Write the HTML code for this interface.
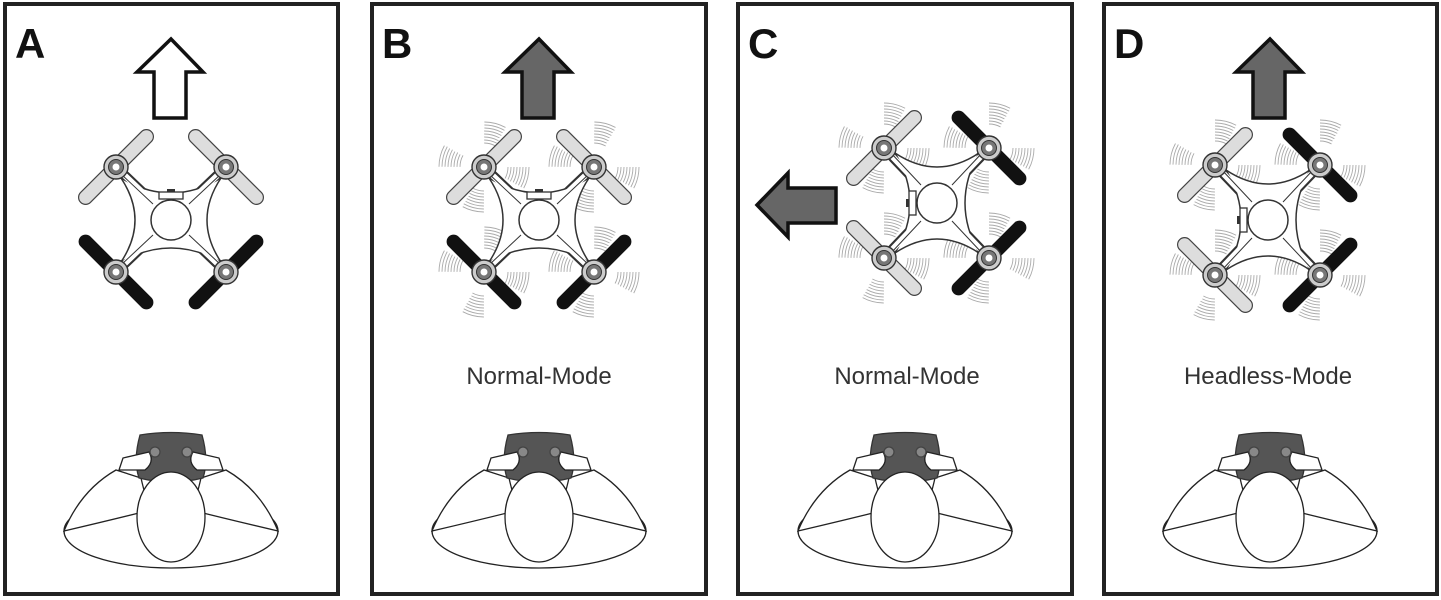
<!DOCTYPE html>
<html><head><meta charset="utf-8"><style>
html,body{margin:0;padding:0;background:#fff;}
svg{display:block;}
text{font-family:"Liberation Sans",Arial,sans-serif;}
</style></head><body>
<svg width="1441" height="600" viewBox="0 0 1441 600" xmlns="http://www.w3.org/2000/svg">
<defs>
  <g id="vib" fill="none" stroke="#aaa" stroke-width="0.9">
    <circle r="24" stroke-dasharray="12 25.7"/>
    <circle r="27" stroke-dasharray="13 29.4"/>
    <circle r="30" stroke-dasharray="15 32.1"/>
    <circle r="33" stroke-dasharray="16 35.8"/>
    <circle r="36" stroke-dasharray="18 38.5"/>
    <circle r="39" stroke-dasharray="19 42.3"/>
    <circle r="42" stroke-dasharray="21 45"/>
    <circle r="45" stroke-dasharray="22 48.7"/>
  </g>
  <g id="motor">
    <circle r="12" fill="#ccc" stroke="#333" stroke-width="1.4"/>
    <circle r="7.5" fill="#777" stroke="#333" stroke-width="1"/>
    <circle r="3.5" fill="#fff"/>
  </g>
  <g id="drone">
    <g stroke="#333" stroke-width="10" stroke-linecap="round">
      <line x1="-55" y1="-53" x2="55" y2="52"/><line x1="55" y1="-53" x2="-55" y2="52"/>
    </g>
    <path d="M-50,-42 Q0,-12 50,-42 Q22,0 50,42 Q0,14 -50,42 Q-22,0 -50,-42 Z" fill="#fff" stroke="#333" stroke-width="1.5"/>
    <g stroke="#fff" stroke-width="6" stroke-linecap="round">
      <line x1="-50" y1="-48" x2="50" y2="47"/><line x1="50" y1="-48" x2="-50" y2="47"/>
    </g>
    <g stroke="#333" stroke-width="1" fill="none">
      <line x1="-50" y1="-46" x2="-18" y2="-16"/><line x1="50" y1="-46" x2="18" y2="-16"/>
      <line x1="-50" y1="45" x2="-18" y2="15"/><line x1="50" y1="45" x2="18" y2="15"/>
    </g>
    <circle r="20" fill="#fff" stroke="#333" stroke-width="1.5"/>
    <rect x="-12" y="-28" width="24" height="7" fill="#fff" stroke="#333" stroke-width="1.3"/>
    <rect x="-4" y="-31" width="8" height="3" fill="#333"/>
    <rect x="-50" y="-7" width="100" height="14" rx="7" fill="#ddd" stroke="#444" stroke-width="1.2" transform="translate(-55,-53) rotate(-45)"/>
    <rect x="-50" y="-7" width="100" height="14" rx="7" fill="#ddd" stroke="#444" stroke-width="1.2" transform="translate(55,-53) rotate(45)"/>
    <rect x="-50" y="-7" width="100" height="14" rx="7" fill="#111" transform="translate(-55,52) rotate(45)"/>
    <rect x="-50" y="-7" width="100" height="14" rx="7" fill="#111" transform="translate(55,52) rotate(-45)"/>
    <use href="#motor" x="-55" y="-53"/><use href="#motor" x="55" y="-53"/>
    <use href="#motor" x="-55" y="52"/><use href="#motor" x="55" y="52"/>
  </g>
  <g id="vibs">
    <use href="#vib" x="-55" y="-53"/><use href="#vib" x="55" y="-53"/>
    <use href="#vib" x="-55" y="52"/><use href="#vib" x="55" y="52"/>
  </g>
  <g id="pilot" fill="#fff" stroke="#222" stroke-width="1.3">
    <ellipse cx="0" cy="531" rx="107" ry="37"/>
    <path d="M-107,531 Q-90,490 -55,470 L-30,478 Q-25,500 -20,510 Q-60,520 -107,531 Z"/>
    <path d="M107,531 Q90,490 55,470 L30,478 Q25,500 20,510 Q60,520 107,531 Z"/>
    <path d="M-31,435 Q0,430 31,435 Q38,460 32,478 Q0,486 -32,478 Q-38,460 -31,435 Z" fill="#555" stroke="#333"/>
    <path d="M-52,470 L-48,458 L-22,452 Q-16,462 -26,470 Z"/>
    <path d="M52,470 L48,458 L22,452 Q16,462 26,470 Z"/>
    <circle cx="-16" cy="452" r="5" fill="#888" stroke="#444"/>
    <circle cx="16" cy="452" r="5" fill="#888" stroke="#444"/>
    <ellipse cx="0" cy="517" rx="34" ry="45"/>
  </g>
</defs>

<g fill="none" stroke="#222" stroke-width="4">
  <rect x="5" y="4" width="333" height="590"/>
  <rect x="372" y="4" width="334" height="590"/>
  <rect x="738" y="4" width="334" height="590"/>
  <rect x="1104" y="4" width="333" height="590"/>
</g>

<g font-weight="bold" font-size="42" fill="#111">
  <text x="15" y="58">A</text>
  <text x="382" y="58">B</text>
  <text x="748" y="58">C</text>
  <text x="1114" y="58">D</text>
</g>

<path d="M171,39 L203,72 L186,72 L186,118 L154,118 L154,72 L137,72 Z" fill="#fff" stroke="#111" stroke-width="3.5"/>
<path d="M539,39 L571,72 L554,72 L554,118 L522,118 L522,72 L505,72 Z" fill="#666" stroke="#111" stroke-width="3.5"/>
<path d="M757,205 L788,173 L788,188 L836,188 L836,223 L788,223 L788,237 Z" fill="#666" stroke="#111" stroke-width="3.5"/>
<path d="M1270,39 L1302,72 L1285,72 L1285,118 L1253,118 L1253,72 L1236,72 Z" fill="#666" stroke="#111" stroke-width="3.5"/>

<use href="#drone" transform="translate(171,220)"/>
<g transform="translate(539,220)"><use href="#vibs"/><use href="#drone"/></g>
<g transform="translate(937,203) rotate(-90)"><use href="#vibs"/><use href="#drone"/></g>
<g transform="translate(1268,220) rotate(-90)"><use href="#vibs"/><use href="#drone"/></g>

<g font-size="24" fill="#333" text-anchor="middle">
  <text x="539" y="384">Normal-Mode</text>
  <text x="907" y="384">Normal-Mode</text>
  <text x="1268" y="384">Headless-Mode</text>
</g>

<use href="#pilot" x="171"/>
<use href="#pilot" x="539"/>
<use href="#pilot" x="905"/>
<use href="#pilot" x="1270"/>
</svg>
</body></html>
